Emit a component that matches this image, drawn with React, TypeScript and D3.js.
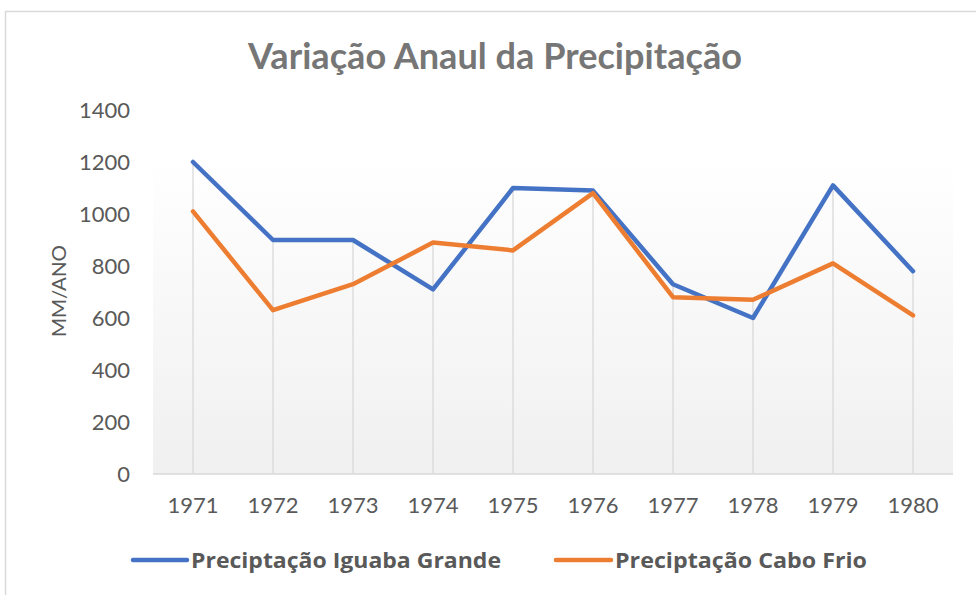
import React from "react";
import * as d3 from "d3";

const years = ["1971","1972","1973","1974","1975","1976","1977","1978","1979","1980"];
const iguaba = [1200, 900, 900, 710, 1100, 1090, 730, 600, 1110, 780];
const caboFrio = [1010, 630, 730, 890, 860, 1080, 680, 670, 810, 610];
const yTicks = [0, 200, 400, 600, 800, 1000, 1200, 1400];
const seriesNames = ["Preciptação Iguaba Grande", "Preciptação Cabo Frio"];
const colors = ["#4472C4", "#ED7D31"];

const W = 976, H = 595;
const left = 153, right = 953, top = 110, bottom = 474;
const FONT = "Lato, 'Open Sans', sans-serif";
const BFONT = "'Open Sans', Lato, sans-serif";

export default function App() {
  const x = d3.scaleBand().domain(years).range([left, right]);
  const y = d3.scaleLinear().domain([0, 1400]).range([bottom, top]);
  const cx = (yr: string) => (x(yr) as number) + x.bandwidth() / 2;
  const line = d3.line<number>()
    .x((_, i) => cx(years[i]))
    .y(d => y(d));
  const series = [iguaba, caboFrio];
  const legend = [
    { lx1: 133, lx2: 187, tx: 191, tl: 310 },
    { lx1: 556, lx2: 611, tx: 615, tl: 252 },
  ];
  return (
    <svg width={W} height={H} style={{ position: "absolute", left: 0, top: 0, background: "#fff" }}>
      <defs>
        <linearGradient id="bg" x1="0" y1="0" x2="0" y2="1">
          <stop offset="0" stopColor="#ffffff" />
          <stop offset="1" stopColor="#f0f0f0" />
        </linearGradient>
      </defs>
      <rect x={5.5} y={11.5} width={1200} height={1200} fill="#fff" stroke="#d9d9d9" strokeWidth={1.5} />
      <text x={495} y={69} textAnchor="middle" fontFamily={FONT} fontWeight="bold" fontSize={37}
        textLength={494} lengthAdjust="spacingAndGlyphs" fill="#767676">
        Variação Anaul da Precipitação
      </text>
      <rect x={left} y={157} width={right - left} height={bottom - 157} fill="url(#bg)" />
      {years.map((yr, i) => (
        <line key={yr} x1={cx(yr)} x2={cx(yr)}
          y1={y(Math.max(iguaba[i], caboFrio[i]))} y2={bottom} stroke="#d9d9d9" strokeWidth={1.3} />
      ))}
      <line x1={left} x2={right} y1={bottom} y2={bottom} stroke="#d9d9d9" strokeWidth={1.5} />
      {yTicks.map(t => (
        <text key={t} x={130} y={y(t) + 8} textAnchor="end" fontFamily={FONT} fontSize={22} fill="#595959">{t}</text>
      ))}
      {years.map(yr => (
        <text key={yr} x={cx(yr)} y={513} textAnchor="middle" fontFamily={FONT} fontSize={22} fill="#595959">{yr}</text>
      ))}
      <text transform="translate(66,291) rotate(-90)" textAnchor="middle" fontFamily={FONT} fontSize={20}
        textLength={92} lengthAdjust="spacingAndGlyphs" fill="#595959">MM/ANO</text>
      {series.map((s, i) => (
        <path key={i} d={line(s) as string} fill="none" stroke={colors[i]} strokeWidth={4.5} strokeLinejoin="round" strokeLinecap="round" />
      ))}
      {seriesNames.map((n, i) => (
        <g key={n}>
          <line x1={legend[i].lx1} x2={legend[i].lx2} y1={560} y2={560} stroke={colors[i]} strokeWidth={4.5} strokeLinecap="round" />
          <text x={legend[i].tx} y={567.5} fontFamily={BFONT} fontWeight="bold" fontSize={20.5}
            textLength={legend[i].tl} lengthAdjust="spacingAndGlyphs" fill="#595959">{n}</text>
        </g>
      ))}
    </svg>
  );
}
